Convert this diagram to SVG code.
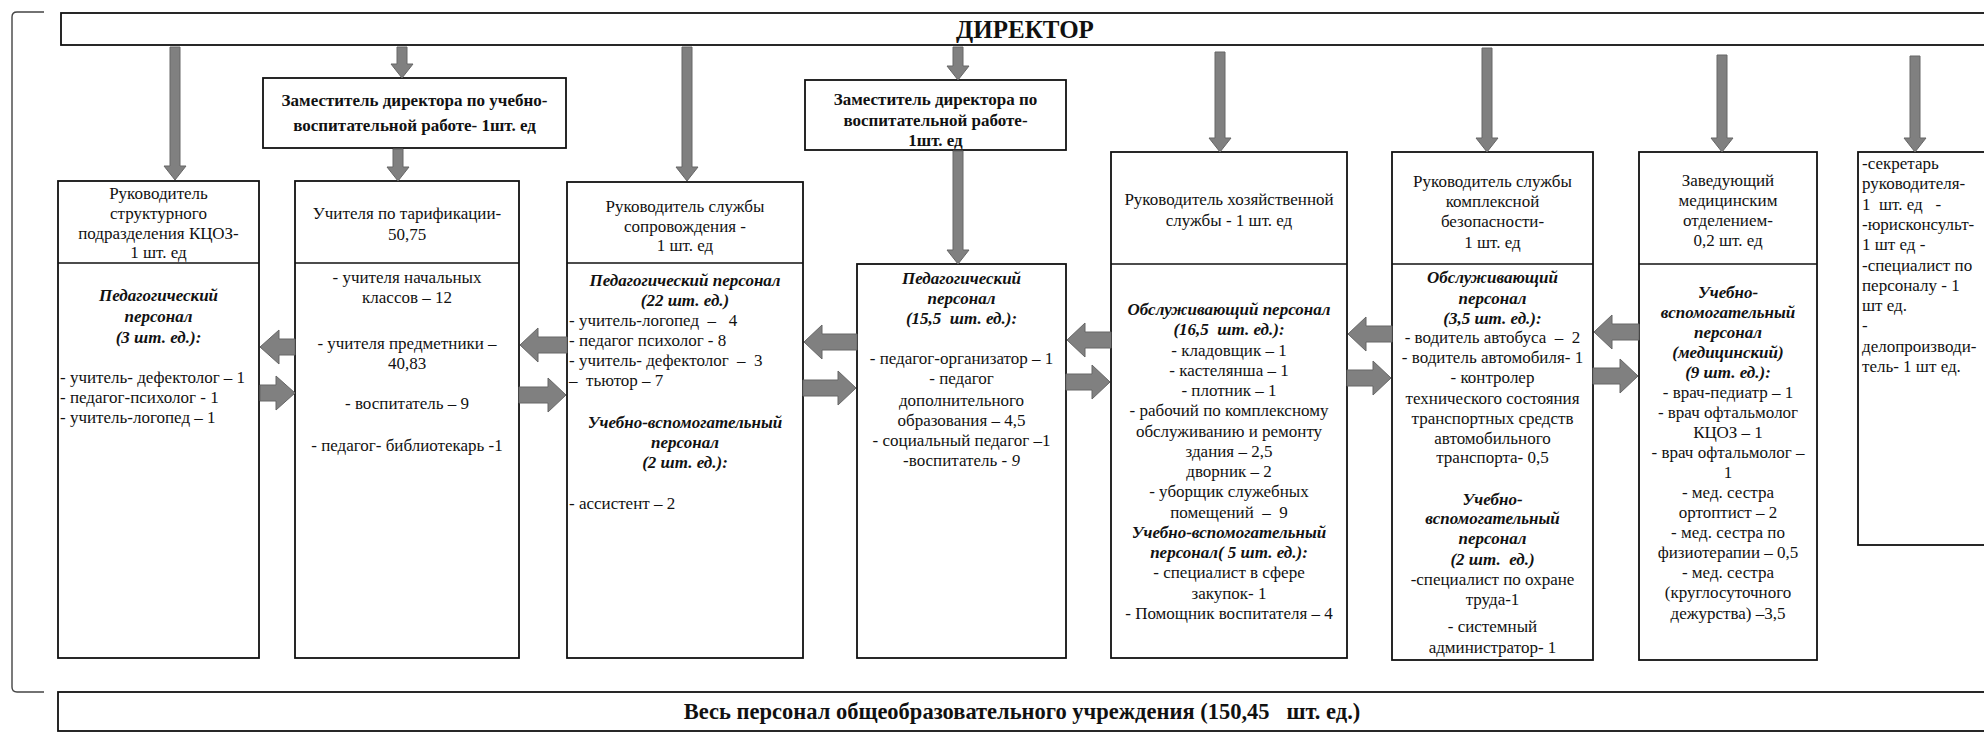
<svg xmlns="http://www.w3.org/2000/svg" width="1984" height="733" viewBox="0 0 1984 733">
<style>
.bg{fill:#ffffff}
.box{fill:#ffffff;stroke:#111111;stroke-width:1.8}
.div{stroke:#111111;stroke-width:1.6}
.br{fill:none;stroke:#444444;stroke-width:1.4}
.t{font-family:"Liberation Serif","Times New Roman",serif;font-size:17px;fill:#111111;white-space:pre}
.c{text-anchor:middle}
.b{font-weight:bold}
.bi{font-weight:bold;font-style:italic}
.h{font-size:17px;font-weight:bold}
.dir{font-size:25px;font-weight:bold}
.tot{font-size:22.5px;font-weight:bold}
.arr{fill:#808080;stroke:#666666;stroke-width:1}
</style>
<rect class="bg" x="0" y="0" width="1984" height="733"/>
<path class="br" d="M44 12 L17 12 Q12 12 12 17 L12 687 Q12 692 17 692 L44 692"/>

<g id="director">
<rect class="box" x="61" y="13" width="1940" height="32"/>
<text class="t c dir" x="1025" y="38">ДИРЕКТОР</text>
</g>

<g id="zam-uvr">
<rect class="box" x="263" y="78" width="303" height="70"/>
<text class="t c h" x="414.5" y="106">Заместитель директора по учебно-</text>
<text class="t c h" x="414.5" y="131">воспитательной работе- 1шт. ед</text>
</g>

<g id="zam-vr">
<rect class="box" x="805" y="80" width="261" height="70"/>
<text class="t c h" x="935.5" y="105">Заместитель директора по</text>
<text class="t c h" x="935.5" y="126">воспитательной работе-</text>
<text class="t c h" x="935.5" y="146">1шт. ед</text>
</g>

<g id="kcoz">
<rect class="box" x="58" y="181" width="201" height="477"/>
<line class="div" x1="58" y1="263" x2="259" y2="263"/>
<text class="t c" x="158.5" y="199">Руководитель</text>
<text class="t c" x="158.5" y="219">структурного</text>
<text class="t c" x="158.5" y="239">подразделения КЦОЗ-</text>
<text class="t c" x="158.5" y="258">1 шт. ед</text>
<text class="t c bi" x="158.5" y="301">Педагогический</text>
<text class="t c bi" x="158.5" y="322">персонал</text>
<text class="t c bi" x="158.5" y="343">(3 шт. ед.):</text>
<text class="t" x="60" y="383">- учитель- дефектолог – 1</text>
<text class="t" x="60" y="403">- педагог-психолог - 1</text>
<text class="t" x="60" y="423">- учитель-логопед – 1</text>
</g>

<g id="teachers">
<rect class="box" x="295" y="181" width="224" height="477"/>
<line class="div" x1="295" y1="263" x2="519" y2="263"/>
<text class="t c" x="407" y="219">Учителя по тарификации-</text>
<text class="t c" x="407" y="240">50,75</text>
<text class="t c" x="407" y="283">- учителя начальных</text>
<text class="t c" x="407" y="303">классов – 12</text>
<text class="t c" x="407" y="349">- учителя предметники –</text>
<text class="t c" x="407" y="369">40,83</text>
<text class="t c" x="407" y="409">- воспитатель – 9</text>
<text class="t c" x="407" y="451">- педагог- библиотекарь -1</text>
</g>

<g id="support">
<rect class="box" x="567" y="182" width="236" height="476"/>
<line class="div" x1="567" y1="263" x2="803" y2="263"/>
<text class="t c" x="685" y="212">Руководитель службы</text>
<text class="t c" x="685" y="232">сопровождения -</text>
<text class="t c" x="685" y="251">1 шт. ед</text>
<text class="t c bi" x="685" y="286">Педагогический персонал</text>
<text class="t c bi" x="685" y="306">(22 шт. ед.)</text>
<text class="t" x="569" y="326">- учитель-логопед  –   4</text>
<text class="t" x="569" y="346">- педагог психолог - 8</text>
<text class="t" x="569" y="366">- учитель- дефектолог  –  3</text>
<text class="t" x="569" y="386">–  тьютор – 7</text>
<text class="t c bi" x="685" y="428">Учебно-вспомогательный</text>
<text class="t c bi" x="685" y="448">персонал</text>
<text class="t c bi" x="685" y="468">(2 шт. ед.):</text>
<text class="t" x="569" y="509">- ассистент – 2</text>
</g>

<g id="vr-staff">
<rect class="box" x="857" y="264" width="209" height="394"/>
<text class="t c bi" x="961.5" y="284">Педагогический</text>
<text class="t c bi" x="961.5" y="304">персонал</text>
<text class="t c bi" x="961.5" y="324">(15,5  шт. ед.):</text>
<text class="t c" x="961.5" y="364">- педагог-организатор – 1</text>
<text class="t c" x="961.5" y="384">- педагог</text>
<text class="t c" x="961.5" y="406">дополнительного</text>
<text class="t c" x="961.5" y="426">образования – 4,5</text>
<text class="t c" x="961.5" y="446">- социальный педагог –1</text>
<text class="t c" x="961.5" y="466">-воспитатель - <tspan font-style="italic">9</tspan></text>
</g>

<g id="household">
<rect class="box" x="1111" y="152" width="236" height="506"/>
<line class="div" x1="1111" y1="264" x2="1347" y2="264"/>
<text class="t c" x="1229" y="205">Руководитель хозяйственной</text>
<text class="t c" x="1229" y="226">службы - 1 шт. ед</text>
<text class="t c bi" x="1229" y="315">Обслуживающий персонал</text>
<text class="t c bi" x="1229" y="335">(16,5  шт. ед.):</text>
<text class="t c" x="1229" y="356">- кладовщик – 1</text>
<text class="t c" x="1229" y="376">- кастелянша – 1</text>
<text class="t c" x="1229" y="396">- плотник – 1</text>
<text class="t c" x="1229" y="416">- рабочий по комплексному</text>
<text class="t c" x="1229" y="437">обслуживанию и ремонту</text>
<text class="t c" x="1229" y="457">здания – 2,5</text>
<text class="t c" x="1229" y="477">дворник – 2</text>
<text class="t c" x="1229" y="497">- уборщик служебных</text>
<text class="t c" x="1229" y="518">помещений  –  9</text>
<text class="t c bi" x="1229" y="538">Учебно-вспомогательный</text>
<text class="t c bi" x="1229" y="558">персонал( 5 шт. ед.):</text>
<text class="t c" x="1229" y="578">- специалист в сфере</text>
<text class="t c" x="1229" y="599">закупок- 1</text>
<text class="t c" x="1229" y="619">- Помощник воспитателя – 4</text>
</g>

<g id="security">
<rect class="box" x="1392" y="152" width="201" height="508"/>
<line class="div" x1="1392" y1="264" x2="1593" y2="264"/>
<text class="t c" x="1492.5" y="187">Руководитель службы</text>
<text class="t c" x="1492.5" y="207">комплексной</text>
<text class="t c" x="1492.5" y="227">безопасности-</text>
<text class="t c" x="1492.5" y="248">1 шт. ед</text>
<text class="t c bi" x="1492.5" y="283">Обслуживающий</text>
<text class="t c bi" x="1492.5" y="304">персонал</text>
<text class="t c bi" x="1492.5" y="324">(3,5 шт. ед.):</text>
<text class="t c" x="1492.5" y="343">- водитель автобуса  –  2</text>
<text class="t c" x="1492.5" y="363">- водитель автомобиля- 1</text>
<text class="t c" x="1492.5" y="383">- контролер</text>
<text class="t c" x="1492.5" y="404">технического состояния</text>
<text class="t c" x="1492.5" y="424">транспортных средств</text>
<text class="t c" x="1492.5" y="444">автомобильного</text>
<text class="t c" x="1492.5" y="463">транспорта- 0,5</text>
<text class="t c bi" x="1492.5" y="505">Учебно-</text>
<text class="t c bi" x="1492.5" y="524">вспомогательный</text>
<text class="t c bi" x="1492.5" y="544">персонал</text>
<text class="t c bi" x="1492.5" y="565">(2 шт.  ед.)</text>
<text class="t c" x="1492.5" y="585">-специалист по охране</text>
<text class="t c" x="1492.5" y="605">труда-1</text>
<text class="t c" x="1492.5" y="632">- системный</text>
<text class="t c" x="1492.5" y="653">администратор- 1</text>
</g>

<g id="medical">
<rect class="box" x="1639" y="152" width="178" height="508"/>
<line class="div" x1="1639" y1="264" x2="1817" y2="264"/>
<text class="t c" x="1728" y="186">Заведующий</text>
<text class="t c" x="1728" y="206">медицинским</text>
<text class="t c" x="1728" y="226">отделением-</text>
<text class="t c" x="1728" y="246">0,2 шт. ед</text>
<text class="t c bi" x="1728" y="298">Учебно-</text>
<text class="t c bi" x="1728" y="318">вспомогательный</text>
<text class="t c bi" x="1728" y="338">персонал</text>
<text class="t c bi" x="1728" y="358">(медицинский)</text>
<text class="t c bi" x="1728" y="378">(9 шт. ед.):</text>
<text class="t c" x="1728" y="398">- врач-педиатр – 1</text>
<text class="t c" x="1728" y="418">- врач офтальмолог</text>
<text class="t c" x="1728" y="438">КЦОЗ – 1</text>
<text class="t c" x="1728" y="458">- врач офтальмолог –</text>
<text class="t c" x="1728" y="478">1</text>
<text class="t c" x="1728" y="498">- мед. сестра</text>
<text class="t c" x="1728" y="518">ортоптист – 2</text>
<text class="t c" x="1728" y="538">- мед. сестра по</text>
<text class="t c" x="1728" y="558">физиотерапии – 0,5</text>
<text class="t c" x="1728" y="578">- мед. сестра</text>
<text class="t c" x="1728" y="598">(круглосуточного</text>
<text class="t c" x="1728" y="619">дежурства) –3,5</text>
</g>

<g id="admin">
<rect class="box" x="1858" y="152" width="140" height="393"/>
<text class="t" x="1862" y="169">-секретарь</text>
<text class="t" x="1862" y="189">руководителя-</text>
<text class="t" x="1862" y="210">1  шт. ед   -</text>
<text class="t" x="1862" y="230">-юрисконсульт-</text>
<text class="t" x="1862" y="250">1 шт ед -</text>
<text class="t" x="1862" y="271">-специалист по</text>
<text class="t" x="1862" y="291">персоналу - 1</text>
<text class="t" x="1862" y="311">шт ед.</text>
<text class="t" x="1862" y="331">-</text>
<text class="t" x="1862" y="352">делопроизводи-</text>
<text class="t" x="1862" y="372">тель- 1 шт ед.</text>
</g>

<g id="total">
<rect class="box" x="58" y="692" width="1940" height="39"/>
<text class="t c tot" x="1022" y="719">Весь персонал общеобразовательного учреждения (150,45   шт. ед.)</text>
</g>

<g id="connectors">
<path class="arr" d="M170 47 L180 47 L180 166 L186 166 L175 180 L164 166 L170 166 Z"/>
<path class="arr" d="M397 47 L407 47 L407 64 L413 64 L402 78 L391 64 L397 64 Z"/>
<path class="arr" d="M682 47 L692 47 L692 167 L698 167 L687 181 L676 167 L682 167 Z"/>
<path class="arr" d="M953 47 L963 47 L963 66 L969 66 L958 80 L947 66 L953 66 Z"/>
<path class="arr" d="M1215 52 L1225 52 L1225 138 L1231 138 L1220 152 L1209 138 L1215 138 Z"/>
<path class="arr" d="M1482 48 L1492 48 L1492 138 L1498 138 L1487 152 L1476 138 L1482 138 Z"/>
<path class="arr" d="M1717 55 L1727 55 L1727 138 L1733 138 L1722 152 L1711 138 L1717 138 Z"/>
<path class="arr" d="M1910 56 L1920 56 L1920 138 L1926 138 L1915 152 L1904 138 L1910 138 Z"/>
<path class="arr" d="M393 149 L403 149 L403 167 L409 167 L398 181 L387 167 L393 167 Z"/>
<path class="arr" d="M953 151 L963 151 L963 250 L969 250 L958 264 L947 250 L953 250 Z"/>
<path class="arr" d="M295 339 L279 339 L279 330 L260 347 L279 364 L279 355 L295 355 Z"/>
<path class="arr" d="M260 385 L276 385 L276 376 L295 393 L276 410 L276 401 L260 401 Z"/>
<path class="arr" d="M567 337 L538 337 L538 328 L520 345 L538 362 L538 353 L567 353 Z"/>
<path class="arr" d="M519 387 L548 387 L548 378 L566 395 L548 412 L548 403 L519 403 Z"/>
<path class="arr" d="M857 334 L822 334 L822 325 L804 342 L822 359 L822 350 L857 350 Z"/>
<path class="arr" d="M803 380 L838 380 L838 371 L856 388 L838 405 L838 396 L803 396 Z"/>
<path class="arr" d="M1111 332 L1085 332 L1085 323 L1067 340 L1085 357 L1085 348 L1111 348 Z"/>
<path class="arr" d="M1066 374 L1092 374 L1092 365 L1110 382 L1092 399 L1092 390 L1066 390 Z"/>
<path class="arr" d="M1392 326 L1366 326 L1366 317 L1348 334 L1366 351 L1366 342 L1392 342 Z"/>
<path class="arr" d="M1347 370 L1373 370 L1373 361 L1391 378 L1373 395 L1373 386 L1347 386 Z"/>
<path class="arr" d="M1639 324 L1612 324 L1612 315 L1594 332 L1612 349 L1612 340 L1639 340 Z"/>
<path class="arr" d="M1593 368 L1620 368 L1620 359 L1638 376 L1620 393 L1620 384 L1593 384 Z"/>
</g>
</svg>
